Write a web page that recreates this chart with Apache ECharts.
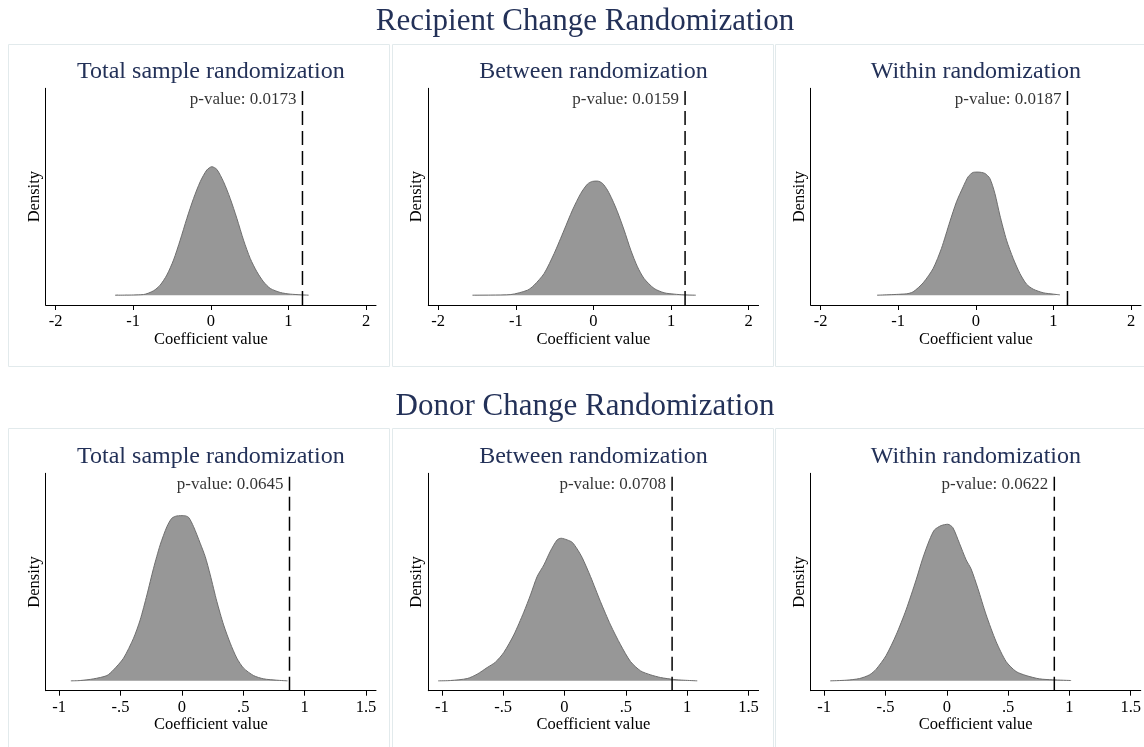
<!DOCTYPE html>
<html><head><meta charset="utf-8">
<script src="https://cdn.jsdelivr.net/npm/echarts@6/dist/echarts.min.js"></script>
<style>html,body{margin:0;padding:0;background:#fff}#c{width:1144px;height:747px}</style>
</head><body><div id="c"></div><script>
// ---------- data ----------
const rowTitles = ['Recipient Change Randomization', 'Donor Change Randomization'];
const panelTitles = ['Total sample randomization', 'Between randomization', 'Within randomization'];
const pValues = ['0.0173', '0.0159', '0.0187', '0.0645', '0.0708', '0.0622'];
const observedCoef = [1.18, 1.18, 1.18, 0.877, 0.877, 0.877];
const topTicks = [-2, -1, 0, 1, 2];
const bottomTicks = [-1, -0.5, 0, 0.5, 1, 1.5];
const topRange = [-2.127, 2.127];
const bottomRange = [-1.11, 1.582];
const densityRange = [-0.095, 2];

const tlCoef = [-1.233,-0.868,-0.739,-0.653,-0.567,-0.481,-0.395,-0.309,-0.223,-0.137,-0.052,0.013,0.077,0.163,0.249,0.335,0.421,0.507,0.593,0.679,0.765,0.894,1.023,1.259];
const tlDensity = [0,0.006,0.042,0.097,0.194,0.339,0.532,0.742,0.935,1.097,1.210,1.242,1.216,1.097,0.935,0.742,0.532,0.355,0.226,0.129,0.065,0.026,0.010,0];

const tmCoef = [-1.558,-1.322,-1.064,-0.850,-0.764,-0.635,-0.506,-0.378,-0.270,-0.163,-0.077,-0.013,0.052,0.116,0.180,0.245,0.309,0.395,0.481,0.567,0.652,0.781,0.910,1.039,1.167,1.318];
const tmDensity = [0,0.001,0.006,0.048,0.097,0.210,0.403,0.629,0.823,0.984,1.074,1.100,1.103,1.081,1.016,0.919,0.806,0.629,0.435,0.274,0.161,0.065,0.023,0.010,0.003,0];

const trCoef = [-1.272,-0.894,-0.808,-0.679,-0.550,-0.443,-0.335,-0.249,-0.163,-0.099,-0.034,0.030,0.116,0.180,0.245,0.309,0.395,0.481,0.567,0.653,0.739,0.868,0.997,1.083];
const trDensity = [0,0.013,0.032,0.119,0.258,0.452,0.710,0.903,1.048,1.145,1.187,1.190,1.177,1.129,0.984,0.774,0.532,0.355,0.210,0.106,0.058,0.023,0.010,0.003];

const blCoef = [-0.905,-0.829,-0.720,-0.611,-0.557,-0.476,-0.394,-0.340,-0.285,-0.231,-0.177,-0.122,-0.082,-0.041,0.014,0.054,0.095,0.149,0.190,0.231,0.285,0.340,0.394,0.448,0.503,0.584,0.666,0.774,0.861];
const blDensity = [0,0.003,0.019,0.051,0.106,0.218,0.411,0.587,0.828,1.085,1.310,1.486,1.567,1.589,1.592,1.576,1.486,1.326,1.197,1.021,0.764,0.539,0.363,0.218,0.122,0.051,0.019,0.006,0];

const bmCoef = [-1.030,-0.929,-0.793,-0.712,-0.630,-0.563,-0.495,-0.413,-0.332,-0.277,-0.223,-0.168,-0.114,-0.060,-0.027,0.022,0.063,0.103,0.144,0.212,0.293,0.375,0.457,0.538,0.620,0.701,0.783,0.891,0.973,1.082];
const bmDensity = [0,0.003,0.022,0.064,0.128,0.180,0.273,0.443,0.661,0.828,1.005,1.117,1.252,1.358,1.374,1.358,1.335,1.271,1.188,1.005,0.764,0.539,0.347,0.186,0.096,0.058,0.032,0.013,0.006,0];

const brCoef = [-0.951,-0.821,-0.712,-0.630,-0.576,-0.495,-0.413,-0.332,-0.250,-0.196,-0.141,-0.101,-0.046,0.008,0.049,0.103,0.158,0.198,0.253,0.321,0.402,0.484,0.565,0.647,0.755,0.864,1.014];
const brDensity = [0,0.006,0.022,0.058,0.112,0.244,0.443,0.684,0.973,1.181,1.358,1.454,1.496,1.509,1.477,1.326,1.165,1.079,0.892,0.636,0.379,0.186,0.090,0.051,0.019,0.010,0.003];

// ---------- layout / style ----------
const FONT = 'Liberation Serif';
const NAVY = '#233158';
const gridLefts = [45.7, 428.3, 810.7];
const gridWidth = 330.3;
const gridTops = [88.3, 473.3];
const gridHeights = [216.7, 217.4];
const panelBoxes = [[8.5,44.5],[392.5,44.5],[775.5,44.5],[8.5,428.5],[392.5,428.5],[775.5,428.5]];

const curves = [[tlCoef,tlDensity],[tmCoef,tmDensity],[trCoef,trDensity],[blCoef,blDensity],[bmCoef,bmDensity],[brCoef,brDensity]];

function fmtTick(v){ if (v === 0) return '0'; return String(v).replace('0.', '.'); }

const grids = [], xAxes = [], yAxes = [], series = [], titles = [], graphics = [];

titles.push({text: rowTitles[0], left: 585, top: 6.5, textAlign: 'center', padding: 0,
  textStyle: {fontFamily: FONT, fontSize: 31, fontWeight: 'normal', color: NAVY}});
titles.push({text: rowTitles[1], left: 585, top: 391.5, textAlign: 'center', padding: 0,
  textStyle: {fontFamily: FONT, fontSize: 31, fontWeight: 'normal', color: NAVY}});

for (let i = 0; i < 6; i++) {
  const row = Math.floor(i / 3), col = i % 3;
  const ticks = row === 0 ? topTicks : bottomTicks;
  const range = row === 0 ? topRange : bottomRange;
  grids.push({left: gridLefts[col], top: gridTops[row], width: gridWidth, height: gridHeights[row], containLabel: false});
  titles.push({text: panelTitles[col], left: gridLefts[col] + gridWidth / 2, top: gridTops[row] - 28.5,
    textAlign: 'center', padding: 0,
    textStyle: {fontFamily: FONT, fontSize: 24, fontWeight: 'normal', color: NAVY}});
  graphics.push({type: 'rect', silent: true, z: -10,
    shape: {x: panelBoxes[i][0], y: panelBoxes[i][1], width: 381, height: 322},
    style: {fill: 'none', stroke: '#e2eaec', lineWidth: 1}});
  xAxes.push({
    gridIndex: i, type: 'value', min: range[0], max: range[1],
    axisLine: {show: true, onZero: false, lineStyle: {color: '#000', width: 1}},
    axisTick: {show: true, length: 5, customValues: ticks, lineStyle: {color: '#000', width: 1}},
    axisLabel: {customValues: ticks, formatter: fmtTick, margin: 8, fontFamily: FONT, fontSize: 16.5, color: '#000'},
    splitLine: {show: false},
    name: 'Coefficient value', nameLocation: 'middle', nameGap: 24,
    nameTextStyle: {fontFamily: FONT, fontSize: 16.5, color: '#000'}
  });
  yAxes.push({
    gridIndex: i, type: 'value', min: densityRange[0], max: densityRange[1],
    axisLine: {show: true, onZero: false, lineStyle: {color: '#000', width: 1}},
    axisTick: {show: false}, axisLabel: {show: false}, splitLine: {show: false},
    name: 'Density', nameLocation: 'middle', nameGap: 3, nameRotate: 90,
    nameTextStyle: {fontFamily: FONT, fontSize: 16.5, color: '#000'}
  });
  const [cx, cy] = curves[i];
  series.push({
    type: 'line', xAxisIndex: i, yAxisIndex: i, silent: true,
    data: cx.map((c, k) => [c, cy[k]]),
    symbol: 'none', smooth: 0.25,
    lineStyle: {color: '#6e6e6e', width: 1},
    areaStyle: {color: '#979797', opacity: 1}
  });
  series.push({
    type: 'line', xAxisIndex: i, yAxisIndex: i, silent: true,
    data: [[observedCoef[i], densityRange[0]], [observedCoef[i], densityRange[1]]],
    symbol: 'none',
    lineStyle: {color: '#000', width: 1.5, type: [14, 6]}
  });
  series.push({
    type: 'scatter', xAxisIndex: i, yAxisIndex: i, silent: true, clip: false,
    data: [[observedCoef[i], densityRange[1]]],
    symbolSize: 0,
    label: {show: true, position: 'left', distance: 6, offset: [0, 11.5],
      formatter: 'p-value: ' + pValues[i], fontFamily: FONT, fontSize: 17, color: '#000'}
  });
}

const chart = echarts.init(document.getElementById('c'), null, {renderer: 'canvas'});
chart.setOption({
  animation: false,
  backgroundColor: '#fff',
  title: titles,
  grid: grids,
  xAxis: xAxes,
  yAxis: yAxes,
  series: series,
  graphic: graphics
});
</script></body></html>
